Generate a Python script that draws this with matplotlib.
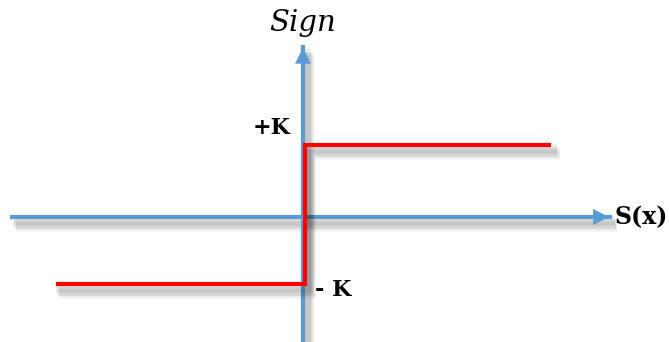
import matplotlib
matplotlib.use("Agg")
import matplotlib.pyplot as plt
import matplotlib.patheffects as pe

# data (units: 1 unit ~ K level)
K_upper = 1.0
K_lower = -0.93
step_x = [-3.40, 0.03, 0.03, 3.42]
step_y = [K_lower, K_lower, K_upper, K_upper]
x_axis = [-4.07, 4.29]
y_axis = [-1.75, 2.39]
labels = {"sign": "Sign", "plus": "+K", "minus": "- K", "sx": "S(x)"}

W, H = 669, 342
fig = plt.figure(figsize=(W / 100, H / 100), dpi=100)
ax = fig.add_axes([0, 0, 1, 1])
ax.set_xlim(-303 / 72, (W - 303) / 72)
ax.set_ylim(-(H - 217) / 72, 217 / 72)
ax.axis("off")

blue = "#5B9BD5"
red = "#FF0000"

def shadow():
    effs = []
    for off, a in [((4, -6), 0.05), ((3, -5), 0.07), ((2, -3), 0.07), ((4, -7), 0.04)]:
        effs.append(pe.SimpleLineShadow(offset=off, shadow_color="black", alpha=a, linewidth=7))
    effs.append(pe.Normal())
    return effs

# axes lines
ax.plot(x_axis, [0, 0], color=blue, lw=3, solid_capstyle="butt", path_effects=shadow(), zorder=2)
ax.plot([0, 0], y_axis, color=blue, lw=3, solid_capstyle="butt", path_effects=shadow(), zorder=2)
ax.annotate("", xy=(x_axis[1], 0), xytext=(x_axis[1] - 0.3, 0),
            arrowprops=dict(arrowstyle="-|>,head_length=0.5,head_width=0.25", color=blue, lw=0,
                            mutation_scale=23), zorder=3)
ax.annotate("", xy=(0, y_axis[1]), xytext=(0, y_axis[1] - 0.3),
            arrowprops=dict(arrowstyle="-|>,head_length=0.5,head_width=0.25", color=blue, lw=0,
                            mutation_scale=23), zorder=3)

# sign function
ax.plot(step_x, step_y, color=red, lw=3, solid_joinstyle="miter", path_effects=shadow(), zorder=4)

# labels
ax.text(0, 2.70, labels["sign"], ha="center", va="center", fontsize=21, family="DejaVu Serif",
        style="italic")
ax.text(-0.43, K_upper + 0.24, labels["plus"], ha="center", va="center", fontsize=16,
        family="DejaVu Serif", fontweight="bold")
ax.text(0.42, K_lower - 0.09, labels["minus"], ha="center", va="center", fontsize=16,
        family="DejaVu Serif", fontweight="bold")
ax.text(4.70, 0, labels["sx"], ha="center", va="center", fontsize=17, family="DejaVu Serif",
        fontweight="bold")

fig.savefig("out.png", dpi=100)
